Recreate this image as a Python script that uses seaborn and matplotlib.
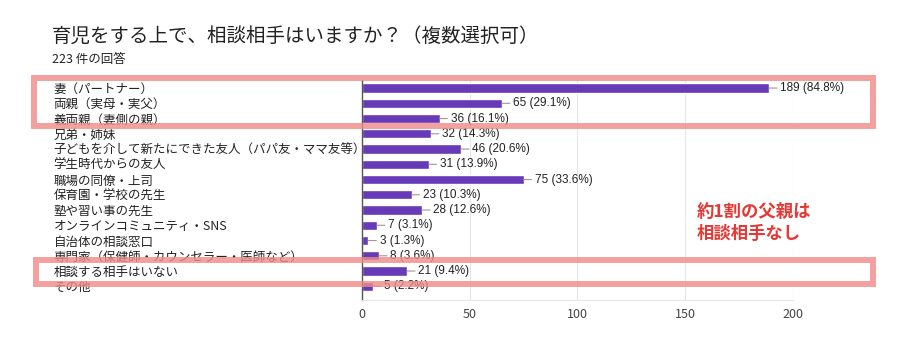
import matplotlib
matplotlib.use("Agg")
import matplotlib.pyplot as plt
import seaborn as sns
import pandas as pd
from matplotlib.patches import Rectangle

# データ
categories = [
    "妻（パートナー）",
    "両親（実母・実父）",
    "義両親（妻側の親）",
    "兄弟・姉妹",
    "子どもを介して新たにできた友人（パパ友・ママ友等）",
    "学生時代からの友人",
    "職場の同僚・上司",
    "保育園・学校の先生",
    "塾や習い事の先生",
    "オンラインコミュニティ・SNS",
    "自治体の相談窓口",
    "専門家（保健師・カウンセラー・医師など）",
    "相談する相手はいない",
    "その他",
]
counts = [189, 65, 36, 32, 46, 31, 75, 23, 28, 7, 3, 8, 21, 5]
percents = [84.8, 29.1, 16.1, 14.3, 20.6, 13.9, 33.6, 10.3, 12.6, 3.1, 1.3, 3.6, 9.4, 2.2]
x_ticks = [0, 50, 100, 150, 200]

title = "育児をする上で、相談相手はいますか？（複数選択可）"
subtitle = "223 件の回答"
note = "約1割の父親は\n相談相手なし"

sns.set_style("white")
plt.rcParams['font.family'] = ['Noto Sans CJK JP', 'DejaVu Sans']

df = pd.DataFrame({"category": categories, "count": counts})

fig = plt.figure(figsize=(9.18, 3.51), dpi=100)
ax = fig.add_axes([0.3943, 0.1453, 0.4695, 0.6282])

sns.barplot(data=df, x="count", y="category", color="#673ab7", saturation=1,
            width=0.6, ax=ax)

ax.set_xlim(0, 200)
ax.set_ylim(len(categories) - 0.1, -0.56)
ax.set_xticks(x_ticks)
ax.set_xticklabels([str(t) for t in x_ticks], fontsize=9, color="#444444")
ax.tick_params(axis="x", length=0, pad=6)
ax.tick_params(axis="y", length=0, pad=222)
for lab in ax.get_yticklabels():
    lab.set_horizontalalignment("left")
    lab.set_fontsize(9)
    lab.set_color("#222222")
ax.set_xlabel("")
ax.set_ylabel("")
ax.grid(axis="x", color="#e6e6e6", linewidth=0.8)
ax.set_axisbelow(True)
for s in ["top", "right"]:
    ax.spines[s].set_visible(False)
ax.spines["bottom"].set_color("#e6e6e6")
ax.spines["left"].set_color("#555555")
ax.spines["left"].set_linewidth(1.0)

# 値ラベル
for i, (c, p) in enumerate(zip(counts, percents)):
    ax.annotate("{} ({}%)".format(c, p), xy=(c, i), xytext=(8, 0),
                textcoords="offset points", va="center", ha="left",
                fontsize=8.5, color="#222222", family=["Liberation Sans", "DejaVu Sans"],
                arrowprops=dict(arrowstyle="-", color="#999999", lw=0.8,
                                shrinkA=0, shrinkB=0))

# タイトル
fig.text(52 / 918, 1 - 36 / 351, title, fontsize=14, color="#222222", va="center")
fig.text(52 / 918, 1 - 59 / 351, subtitle, fontsize=9, color="#222222", va="center")

# 赤枠
box_color = "#f08a86"
fig.patches.append(Rectangle((34 / 918, 1 - 126 / 351), 839 / 918, 48 / 351,
                             transform=fig.transFigure, fill=False,
                             edgecolor=box_color, linewidth=4.3, alpha=0.8, zorder=10))
fig.patches.append(Rectangle((36 / 918, 1 - 284 / 351), 837 / 918, 24 / 351,
                             transform=fig.transFigure, fill=False,
                             edgecolor=box_color, linewidth=4.3, alpha=0.8, zorder=10))

fig.text(697 / 918, 1 - 223 / 351, note, fontsize=12.5, color="#e53935",
         fontweight="bold", va="center", ha="left", linespacing=1.3)

fig.savefig("out.png", dpi=100)
